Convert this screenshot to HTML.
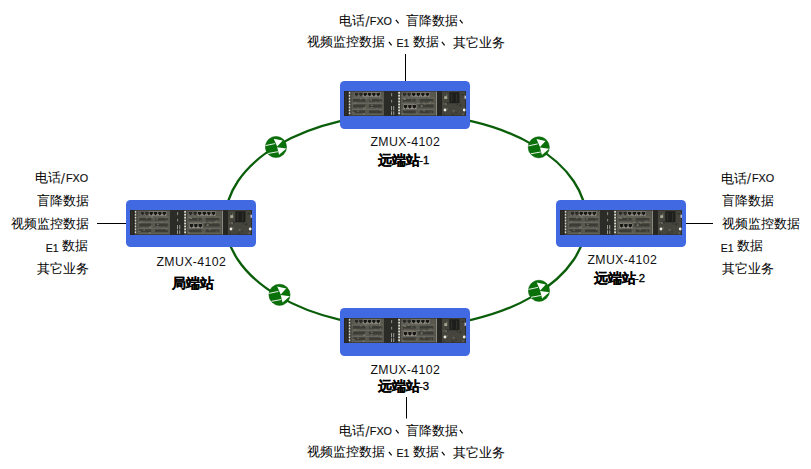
<!DOCTYPE html>
<html><head><meta charset="utf-8">
<style>
html,body{margin:0;padding:0;background:#fff;width:811px;height:469px;overflow:hidden;position:relative}
.t{position:absolute;white-space:nowrap;font-family:"Liberation Sans",sans-serif;font-size:13px;line-height:16px;-webkit-text-stroke:0;color:#000}
.l{font-size:10.8px;-webkit-text-stroke:0.15px #000;color:#111}
.sl{font-size:15.5px;-webkit-text-stroke:0;color:#333}
.m{font-size:12.3px;letter-spacing:0.4px;color:#111;-webkit-text-stroke:0}
.b{font-weight:bold;-webkit-text-stroke:0}
.bb{font-size:13.6px;-webkit-text-stroke:0.15px #000}
.sn{font-size:11.3px;-webkit-text-stroke:0.35px #000}
.e{font-size:10.5px}

.cm{position:absolute}
.box{position:absolute;width:130px;height:47.5px;background:#4169e1;border-radius:4.5px}
.box svg{position:absolute;left:4px;top:10.4px}
</style></head><body>
<svg width="811" height="469" style="position:absolute;left:0;top:0">
<defs>
<g id="dev">
<rect x="0" y="0" width="122" height="24" fill="#2f2f2b"/>
<rect x="0" y="0" width="4.8" height="24" fill="#262522"/>
<rect x="1.2" y="1" width="1.6" height="22" fill="#35322c"/>
<rect x="4.8" y="0.5" width="1.8" height="23" fill="#5e5e56"/><rect x="4.8" y="1.0" width="1.8" height="1.5" fill="#d8d8cc"/><rect x="4.8" y="3.8" width="1.8" height="1.5" fill="#d8d8cc"/><rect x="4.8" y="6.6" width="1.8" height="1.5" fill="#d8d8cc"/><rect x="4.8" y="9.4" width="1.8" height="1.5" fill="#d8d8cc"/><rect x="4.8" y="12.2" width="1.8" height="1.5" fill="#d8d8cc"/><rect x="4.8" y="15.0" width="1.8" height="1.5" fill="#d8d8cc"/><rect x="4.8" y="17.8" width="1.8" height="1.5" fill="#d8d8cc"/><rect x="4.8" y="20.6" width="1.8" height="1.5" fill="#d8d8cc"/>
<rect x="6.6" y="0.5" width="33.4" height="23" fill="#58584f"/><rect x="7.6" y="6.2" width="31.4" height="1.0" fill="#6a6a5f"/><rect x="7.6" y="11.4" width="31.4" height="1.0" fill="#696960"/><rect x="7.6" y="17.2" width="31.4" height="1.0" fill="#686860"/><rect x="7.6" y="22" width="31.4" height="1" fill="#62625a"/><rect x="9.1" y="7.6" width="12.0" height="2.6" fill="#3c3c36"/><rect x="25.0" y="7.6" width="12.7" height="2.6" fill="#3c3c36"/><rect x="9.1" y="13.0" width="12.0" height="2.8" fill="#3c3c36"/><rect x="25.0" y="13.0" width="12.7" height="2.8" fill="#3c3c36"/><rect x="9.1" y="18.6" width="12.0" height="2.6" fill="#3c3c36"/><rect x="25.0" y="18.6" width="12.7" height="2.6" fill="#3c3c36"/><rect x="20.9" y="15.0" width="1.6" height="1.0" fill="#6c6c62"/><rect x="13.2" y="18.9" width="1.9" height="1.0" fill="#6c6c62"/><rect x="10.4" y="10.9" width="1.7" height="1.0" fill="#7a7a6e"/><rect x="26.3" y="15.5" width="2.4" height="0.9" fill="#6c6c62"/><rect x="25.7" y="8.5" width="2.2" height="0.6" fill="#7a7a6e"/><rect x="8.6" y="20.1" width="2.1" height="0.8" fill="#7a7a6e"/><rect x="25.0" y="9.1" width="1.9" height="0.8" fill="#45453e"/><rect x="27.1" y="13.3" width="1.5" height="0.9" fill="#828276"/><rect x="35.0" y="7.3" width="1.3" height="0.7" fill="#828276"/><rect x="16.1" y="7.1" width="1.5" height="1.0" fill="#7a7a6e"/><rect x="19.0" y="21.3" width="1.2" height="1.1" fill="#7a7a6e"/><rect x="9.1" y="12.0" width="1.5" height="0.9" fill="#6c6c62"/><rect x="13.4" y="16.8" width="0.9" height="0.8" fill="#828276"/><rect x="35.9" y="18.1" width="1.0" height="1.0" fill="#7a7a6e"/><rect x="7.9" y="13.4" width="1.1" height="0.9" fill="#6c6c62"/><rect x="20.8" y="9.1" width="1.5" height="0.8" fill="#45453e"/><rect x="19.2" y="21.8" width="1.3" height="1.1" fill="#7a7a6e"/><rect x="31.2" y="10.9" width="1.2" height="0.8" fill="#7a7a6e"/><rect x="32.7" y="16.3" width="0.9" height="0.7" fill="#7a7a6e"/><rect x="20.6" y="6.2" width="2.2" height="0.8" fill="#828276"/><rect x="9.8" y="9.3" width="0.8" height="0.8" fill="#45453e"/><rect x="25.9" y="8.0" width="2.2" height="0.7" fill="#6c6c62"/><rect x="19.0" y="16.0" width="2.3" height="1.0" fill="#828276"/><rect x="14.9" y="9.0" width="2.0" height="0.8" fill="#45453e"/><rect x="21.8" y="7.3" width="1.0" height="0.6" fill="#7a7a6e"/><rect x="35.9" y="9.8" width="1.2" height="1.0" fill="#6c6c62"/><rect x="6.6" y="0.5" width="0.7" height="23" fill="#3a3a35"/>
<rect x="10.40" y="1.10" width="4.2" height="4.4" fill="#6e6a64"/><path d="M10.80 1.70h3.4v2l-1.7 1.6l-1.7-1.6z" fill="#2a2a26"/><rect x="14.75" y="1.10" width="4.2" height="4.4" fill="#6e6a64"/><path d="M15.15 1.70h3.4v2l-1.7 1.6l-1.7-1.6z" fill="#2a2a26"/><rect x="19.10" y="1.10" width="4.2" height="4.4" fill="#9a948c"/><path d="M19.50 1.70h3.4v2l-1.7 1.6l-1.7-1.6z" fill="#161614"/><rect x="23.45" y="1.10" width="4.2" height="4.4" fill="#9a948c"/><path d="M23.85 1.70h3.4v2l-1.7 1.6l-1.7-1.6z" fill="#161614"/><rect x="27.80" y="1.10" width="4.2" height="4.4" fill="#9a948c"/><path d="M28.20 1.70h3.4v2l-1.7 1.6l-1.7-1.6z" fill="#161614"/><rect x="32.15" y="1.10" width="4.2" height="4.4" fill="#9a948c"/><path d="M32.55 1.70h3.4v2l-1.7 1.6l-1.7-1.6z" fill="#161614"/>
<rect x="40" y="0.5" width="14.2" height="23" fill="#2b2b28"/>
<rect x="47.3" y="2" width="0.8" height="3" fill="#a8a89e"/>
<rect x="47.3" y="8.5" width="0.8" height="2.5" fill="#a8a89e"/>
<rect x="47.0" y="14.5" width="0.9" height="4" fill="#a8a89e"/>
<rect x="49.3" y="14.5" width="0.9" height="4" fill="#a8a89e"/>
<rect x="47.0" y="19.5" width="0.9" height="3.5" fill="#a8a89e"/>
<rect x="49.3" y="19.5" width="0.9" height="3.5" fill="#a8a89e"/>
<rect x="54.2" y="0.5" width="1.9" height="23" fill="#5e5e56"/><rect x="54.2" y="1.0" width="1.9" height="1.5" fill="#d8d8cc"/><rect x="54.2" y="3.8" width="1.9" height="1.5" fill="#d8d8cc"/><rect x="54.2" y="6.6" width="1.9" height="1.5" fill="#d8d8cc"/><rect x="54.2" y="9.4" width="1.9" height="1.5" fill="#d8d8cc"/><rect x="54.2" y="12.2" width="1.9" height="1.5" fill="#d8d8cc"/><rect x="54.2" y="15.0" width="1.9" height="1.5" fill="#d8d8cc"/><rect x="54.2" y="17.8" width="1.9" height="1.5" fill="#d8d8cc"/><rect x="54.2" y="20.6" width="1.9" height="1.5" fill="#d8d8cc"/>
<rect x="56.4" y="0.5" width="35.199999999999996" height="23" fill="#58584f"/><rect x="57.4" y="6.2" width="33.199999999999996" height="1.0" fill="#6a6a5f"/><rect x="57.4" y="11.4" width="33.199999999999996" height="1.0" fill="#696960"/><rect x="57.4" y="17.2" width="33.199999999999996" height="1.0" fill="#686860"/><rect x="57.4" y="22" width="33.199999999999996" height="1" fill="#62625a"/><rect x="58.9" y="7.6" width="12.7" height="2.6" fill="#3c3c36"/><rect x="75.8" y="7.6" width="13.4" height="2.6" fill="#3c3c36"/><rect x="74.4" y="13.0" width="15.199999999999996" height="2.8" fill="#3c3c36"/><rect x="58.9" y="18.6" width="12.7" height="2.6" fill="#3c3c36"/><rect x="75.8" y="18.6" width="13.4" height="2.6" fill="#3c3c36"/><rect x="76.0" y="10.7" width="2.4" height="1.1" fill="#45453e"/><rect x="61.3" y="13.7" width="1.3" height="1.1" fill="#7a7a6e"/><rect x="63.8" y="6.3" width="1.5" height="0.7" fill="#828276"/><rect x="58.9" y="10.5" width="1.0" height="0.7" fill="#45453e"/><rect x="71.5" y="11.3" width="1.8" height="1.1" fill="#45453e"/><rect x="72.2" y="11.7" width="2.4" height="0.6" fill="#828276"/><rect x="77.2" y="13.7" width="1.3" height="1.1" fill="#828276"/><rect x="59.7" y="14.7" width="2.3" height="1.0" fill="#7a7a6e"/><rect x="79.4" y="18.7" width="1.4" height="0.9" fill="#828276"/><rect x="85.5" y="19.9" width="2.4" height="0.6" fill="#6c6c62"/><rect x="73.0" y="6.2" width="1.4" height="0.6" fill="#6c6c62"/><rect x="59.7" y="7.5" width="2.5" height="1.0" fill="#7a7a6e"/><rect x="80.1" y="12.2" width="1.5" height="1.0" fill="#6c6c62"/><rect x="60.0" y="18.0" width="1.3" height="0.6" fill="#7a7a6e"/><rect x="58.1" y="21.3" width="1.6" height="0.9" fill="#7a7a6e"/><rect x="86.1" y="10.1" width="1.4" height="0.7" fill="#7a7a6e"/><rect x="76.5" y="14.3" width="1.9" height="0.8" fill="#828276"/><rect x="85.2" y="11.2" width="1.1" height="0.8" fill="#828276"/><rect x="82.5" y="20.6" width="1.5" height="0.9" fill="#45453e"/><rect x="67.3" y="8.2" width="1.4" height="1.0" fill="#6c6c62"/><rect x="58.7" y="7.0" width="2.2" height="0.7" fill="#828276"/><rect x="72.1" y="20.8" width="1.5" height="0.9" fill="#6c6c62"/><rect x="78.4" y="17.5" width="1.3" height="1.0" fill="#6c6c62"/><rect x="66.1" y="15.7" width="1.8" height="0.8" fill="#828276"/><rect x="82.1" y="6.3" width="1.5" height="0.7" fill="#45453e"/><rect x="81.4" y="10.3" width="2.2" height="1.1" fill="#45453e"/><rect x="56.4" y="0.5" width="0.7" height="23" fill="#3a3a35"/>
<rect x="58.40" y="1.10" width="4.2" height="4.4" fill="#6e6a64"/><path d="M58.80 1.70h3.4v2l-1.7 1.6l-1.7-1.6z" fill="#2a2a26"/><rect x="63.00" y="1.10" width="4.2" height="4.4" fill="#6e6a64"/><path d="M63.40 1.70h3.4v2l-1.7 1.6l-1.7-1.6z" fill="#2a2a26"/><rect x="67.60" y="1.10" width="4.2" height="4.4" fill="#9a948c"/><path d="M68.00 1.70h3.4v2l-1.7 1.6l-1.7-1.6z" fill="#161614"/><rect x="72.20" y="1.10" width="4.2" height="4.4" fill="#9a948c"/><path d="M72.60 1.70h3.4v2l-1.7 1.6l-1.7-1.6z" fill="#161614"/><rect x="76.80" y="1.10" width="4.2" height="4.4" fill="#9a948c"/><path d="M77.20 1.70h3.4v2l-1.7 1.6l-1.7-1.6z" fill="#161614"/><rect x="81.40" y="1.10" width="4.2" height="4.4" fill="#9a948c"/><path d="M81.80 1.70h3.4v2l-1.7 1.6l-1.7-1.6z" fill="#161614"/>
<rect x="59.40" y="12.90" width="4.2" height="4.4" fill="#9a948c"/><path d="M59.80 13.50h3.4v2l-1.7 1.6l-1.7-1.6z" fill="#161614"/><rect x="63.80" y="12.90" width="4.2" height="4.4" fill="#9a948c"/><path d="M64.20 13.50h3.4v2l-1.7 1.6l-1.7-1.6z" fill="#161614"/><rect x="68.20" y="12.90" width="4.2" height="4.4" fill="#9a948c"/><path d="M68.60 13.50h3.4v2l-1.7 1.6l-1.7-1.6z" fill="#161614"/>
<rect x="91.8" y="0.5" width="1.2" height="23" fill="#8a8a80"/>
<rect x="93" y="0.5" width="5" height="23" fill="#262623"/>
<rect x="98" y="0.5" width="23" height="23" fill="#45453d"/>
<rect x="100.9" y="3.3" width="2.4" height="1.6" fill="#6a6a60"/>
<rect x="102.6" y="11.0" width="2.0" height="1.7" fill="#2e2e2a"/>
<rect x="109.5" y="1.8" width="1.3" height="1.2" fill="#2e2e2a"/>
<rect x="112.8" y="11.9" width="1.5" height="1.8" fill="#2e2e2a"/>
<rect x="117.1" y="2.8" width="1.0" height="1.3" fill="#3a3a34"/>
<rect x="111.3" y="20.1" width="1.7" height="1.6" fill="#3a3a34"/>
<rect x="108.8" y="18.2" width="1.6" height="1.6" fill="#6a6a60"/>
<rect x="102.7" y="16.2" width="1.2" height="1.9" fill="#5e5e55"/>
<rect x="118.6" y="21.5" width="1.2" height="1.7" fill="#6a6a60"/>
<rect x="98.8" y="11.6" width="1.5" height="1.5" fill="#5e5e55"/>
<rect x="114.2" y="11.2" width="1.2" height="1.8" fill="#5e5e55"/>
<rect x="107.3" y="1.7" width="2.0" height="1.9" fill="#6a6a60"/>
<rect x="108.1" y="22.0" width="2.4" height="1.4" fill="#3a3a34"/>
<rect x="118.0" y="2.8" width="1.5" height="1.5" fill="#2e2e2a"/>
<rect x="115.5" y="12.8" width="1.7" height="1.8" fill="#2e2e2a"/>
<rect x="110.0" y="7.5" width="2.4" height="1.8" fill="#3a3a34"/>
<rect x="111.0" y="7.4" width="2.4" height="1.4" fill="#2e2e2a"/>
<rect x="110.2" y="5.2" width="1.7" height="1.5" fill="#5e5e55"/>
<rect x="99.1" y="21.4" width="1.7" height="2.0" fill="#3a3a34"/>
<rect x="101.0" y="3.0" width="0.9" height="1.4" fill="#2e2e2a"/>
<rect x="107.0" y="21.1" width="1.3" height="1.4" fill="#3a3a34"/>
<rect x="101.1" y="10.1" width="1.7" height="0.9" fill="#3a3a34"/>
<rect x="107.1" y="1.6" width="1.0" height="1.7" fill="#6a6a60"/>
<rect x="99.0" y="5.1" width="0.8" height="1.1" fill="#2e2e2a"/>
<rect x="113.3" y="6.1" width="1.0" height="1.7" fill="#3a3a34"/>
<rect x="101.0" y="11.7" width="2.0" height="1.6" fill="#6a6a60"/>
<rect x="104.6" y="0.5" width="11.6" height="11.8" fill="#40403a"/>
<rect x="105.4" y="1.2" width="10" height="10.4" fill="#1e1e1c"/>
<rect x="107.2" y="2.5" width="1" height="8" fill="#35352f"/><rect x="112.2" y="2.5" width="1" height="8" fill="#35352f"/>
<rect x="100.2" y="5" width="3" height="2.6" fill="#a8a894"/>
<circle cx="101" cy="18.2" r="1.4" fill="#ecece4"/><circle cx="120.2" cy="18.3" r="1.4" fill="#ecece4"/>
<rect x="120.5" y="4.5" width="1.5" height="3" fill="#b8c0d0"/>
</g>
<g id="con">
<circle cx="0" cy="0" r="10.6" fill="#0a700a" stroke="#086008" stroke-width="0.5"/>
<polygon points="-2.3,-8.2 6.7,-6.4 1.2,-0.4" fill="#fff"/>
<polygon points="1.2,0.2 10.3,1.4 3.1,7.7" fill="#fff"/>
<line x1="-10.4" y1="-1.4" x2="-1.1" y2="-3.4" stroke="#fff" stroke-width="0.9"/>
<line x1="-8" y1="6.5" x2="1.9" y2="4.7" stroke="#fff" stroke-width="0.9"/>
</g>
</defs>
<ellipse cx="405.8" cy="220.5" rx="180.6" ry="106.6" fill="none" stroke="#0a5e0a" stroke-width="2.3"/>
<line x1="405.5" y1="54" x2="405.5" y2="81" stroke="#000" stroke-width="1"/>
<line x1="406.5" y1="397" x2="406.5" y2="418.5" stroke="#000" stroke-width="1"/>
<line x1="97" y1="223.5" x2="126" y2="223.5" stroke="#000" stroke-width="1"/>
<line x1="686" y1="223.5" x2="713" y2="223.5" stroke="#000" stroke-width="1"/>
<use href="#con" x="276" y="147"/>
<use href="#con" x="538.8" y="147.3"/>
<use href="#con" x="279.5" y="294.8"/>
<use href="#con" x="539" y="290.8"/>
</svg>
<div class="box" style="left:340px;top:81px"><svg width="122" height="25" viewBox="0 0 122 24" preserveAspectRatio="none"><use href="#dev"/></svg></div>
<div class="box" style="left:126px;top:199.8px"><svg width="122" height="25" viewBox="0 0 122 24" preserveAspectRatio="none"><use href="#dev"/></svg></div>
<div class="box" style="left:556px;top:199.8px"><svg width="122" height="25" viewBox="0 0 122 24" preserveAspectRatio="none"><use href="#dev"/></svg></div>
<div class="box" style="left:340px;top:308px"><svg width="122" height="25" viewBox="0 0 122 24" preserveAspectRatio="none"><use href="#dev"/></svg></div>
<div class="t " style="left:339.0px;top:12.9px">电话</div>
<div class="t sl" style="left:365.3px;top:13.5px">/</div>
<div class="t l" style="left:369.8px;top:12.7px">FXO</div>
<svg class="cm" style="left:395.3px;top:19.0px" width="5" height="6"><path d="M0.9 0.9L3.6 4.4" stroke="#000" stroke-width="1.15" fill="none"/></svg>
<div class="t " style="left:406.1px;top:12.9px">盲降数据</div>
<svg class="cm" style="left:459.3px;top:19.0px" width="5" height="6"><path d="M0.9 0.9L3.6 4.4" stroke="#000" stroke-width="1.15" fill="none"/></svg>
<div class="t " style="left:307.0px;top:33.9px">视频监控数据</div>
<svg class="cm" style="left:387.5px;top:41.3px" width="5" height="6"><path d="M0.9 0.9L3.6 4.4" stroke="#000" stroke-width="1.15" fill="none"/></svg>
<div class="t l e" style="left:396.6px;top:35.4px">E1</div>
<div class="t " style="left:412.6px;top:33.9px">数据</div>
<svg class="cm" style="left:441.3px;top:41.3px" width="5" height="6"><path d="M0.9 0.9L3.6 4.4" stroke="#000" stroke-width="1.15" fill="none"/></svg>
<div class="t " style="left:453.0px;top:34.9px">其它业务</div>
<div class="t " style="left:339.0px;top:422.9px">电话</div>
<div class="t sl" style="left:365.3px;top:423.5px">/</div>
<div class="t l" style="left:369.8px;top:422.7px">FXO</div>
<svg class="cm" style="left:395.3px;top:429.0px" width="5" height="6"><path d="M0.9 0.9L3.6 4.4" stroke="#000" stroke-width="1.15" fill="none"/></svg>
<div class="t " style="left:406.1px;top:422.9px">盲降数据</div>
<svg class="cm" style="left:459.3px;top:429.0px" width="5" height="6"><path d="M0.9 0.9L3.6 4.4" stroke="#000" stroke-width="1.15" fill="none"/></svg>
<div class="t " style="left:307.0px;top:443.9px">视频监控数据</div>
<svg class="cm" style="left:387.5px;top:451.3px" width="5" height="6"><path d="M0.9 0.9L3.6 4.4" stroke="#000" stroke-width="1.15" fill="none"/></svg>
<div class="t l e" style="left:396.6px;top:445.4px">E1</div>
<div class="t " style="left:412.6px;top:443.9px">数据</div>
<svg class="cm" style="left:441.3px;top:451.3px" width="5" height="6"><path d="M0.9 0.9L3.6 4.4" stroke="#000" stroke-width="1.15" fill="none"/></svg>
<div class="t " style="left:453.0px;top:444.9px">其它业务</div>
<div class="t " style="left:34.8px;top:170.4px">电话</div>
<div class="t sl" style="left:60.8px;top:171.0px">/</div>
<div class="t l" style="left:66.0px;top:170.2px">FXO</div>
<div class="t " style="left:37.0px;top:192.9px">盲降数据</div>
<div class="t " style="left:11.2px;top:215.5px">视频监控数据</div>
<div class="t l e" style="left:45.8px;top:239.5px">E1</div>
<div class="t " style="left:62.1px;top:238.0px">数据</div>
<div class="t " style="left:37.3px;top:261.0px">其它业务</div>
<div class="t " style="left:720.7px;top:170.5px">电话</div>
<div class="t sl" style="left:746.7px;top:171.1px">/</div>
<div class="t l" style="left:751.9px;top:170.3px">FXO</div>
<div class="t " style="left:722.2px;top:193.1px">盲降数据</div>
<div class="t " style="left:722.0px;top:215.5px">视频监控数据</div>
<div class="t l e" style="left:720.7px;top:239.8px">E1</div>
<div class="t " style="left:736.6px;top:238.3px">数据</div>
<div class="t " style="left:722.2px;top:261.4px">其它业务</div>
<div class="t m" style="left:370.4px;top:134.4px">ZMUX-4102</div>
<div class="t b bb" style="left:378.3px;top:152.8px">远端站</div>
<div class="t sn" style="left:419.2px;top:152.1px">-1</div>
<div class="t m" style="left:156.4px;top:254.4px">ZMUX-4102</div>
<div class="t b bb" style="left:172.2px;top:275.8px">局端站</div>
<div class="t m" style="left:587.4px;top:252.4px">ZMUX-4102</div>
<div class="t b bb" style="left:593.8px;top:270.8px">远端站</div>
<div class="t sn" style="left:635.0px;top:270.1px">-2</div>
<div class="t m" style="left:370.4px;top:362.4px">ZMUX-4102</div>
<div class="t b bb" style="left:378.3px;top:378.8px">远端站</div>
<div class="t sn" style="left:419.0px;top:378.1px">-3</div>
</body></html>
